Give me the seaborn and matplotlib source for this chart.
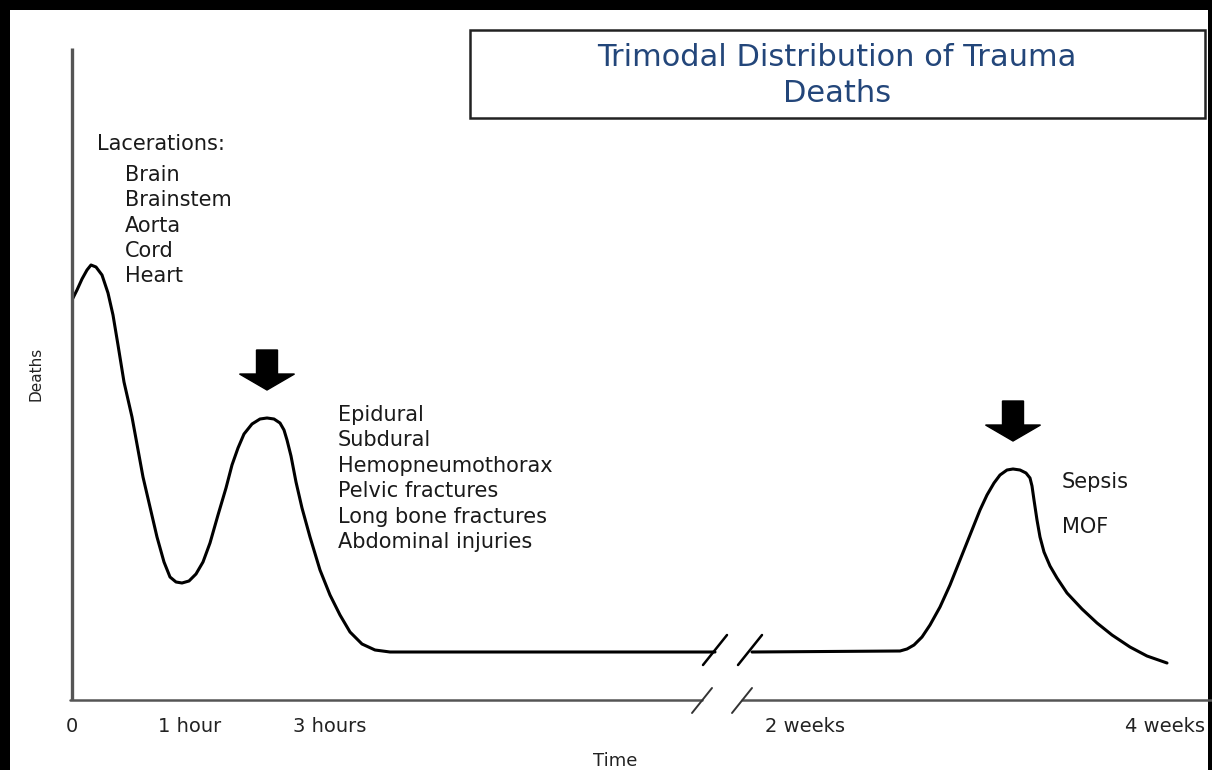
import numpy as np
import pandas as pd
import seaborn as sns
import matplotlib
import matplotlib.pyplot as plt
from matplotlib.patches import Rectangle

matplotlib.use("Agg")
sns.set_theme(style="white")
plt.rcParams["font.family"] = ["DejaVu Sans"]

# Curve (time position, relative deaths), split at the axis break
early_time = [0, 5, 10, 15, 19, 24, 30, 36, 41, 46, 52, 60, 71, 85, 92, 98, 104, 110,
              117, 124, 131, 138, 146, 154, 160, 166, 172, 180, 188, 195, 202, 208,
              212, 215, 219, 224, 230, 238, 248, 258, 268, 278, 290, 303, 318, 328, 643]
early_deaths = [400, 410, 421, 430, 435, 433, 425, 407, 385, 355, 318, 283, 223, 163,
                138, 123, 118, 117, 119, 126, 138, 157, 185, 212, 235, 252, 266, 276,
                281, 282, 281, 277, 270, 260, 244, 218, 192, 163, 130, 105, 85, 68,
                56, 50, 48, 48, 48]
late_time = [680, 828, 835, 842, 850, 858, 868, 878, 888, 898, 908, 915, 922, 928, 935,
             941, 948, 954, 958, 960, 962, 965, 968, 972, 978, 985, 995, 1010, 1025,
             1040, 1058, 1075, 1095]
late_deaths = [48, 49, 51, 55, 63, 75, 93, 115, 140, 165, 190, 205, 217, 225, 230,
               231, 230, 227, 222, 214, 200, 180, 163, 148, 134, 122, 107, 91, 77,
               65, 53, 44, 37]

tick_pos = [0, 118, 258, 733, 1093]
tick_labels = ["0", "1 hour", "3 hours", "2 weeks", "4 weeks"]

immediate_causes = ["Brain", "Brainstem", "Aorta", "Cord", "Heart"]
early_causes = ["Epidural", "Subdural", "Hemopneumothorax", "Pelvic fractures",
                "Long bone fractures", "Abdominal injuries"]
late_causes = ["Sepsis", "MOF"]

df = pd.concat([
    pd.DataFrame({"time": early_time, "deaths": early_deaths, "segment": "early"}),
    pd.DataFrame({"time": late_time, "deaths": late_deaths, "segment": "late"}),
])

fig = plt.figure(figsize=(12.12, 7.7), dpi=100, facecolor="black")
fig.patches.append(Rectangle((10 / 1212, 0), 1198 / 1212, 760 / 770,
                             transform=fig.transFigure, facecolor="white",
                             edgecolor="none", zorder=-1))
ax = fig.add_axes([72 / 1212, 70 / 770, 1140 / 1212, 652 / 770])
ax.set_facecolor("none")

sns.lineplot(data=df, x="time", y="deaths", units="segment", estimator=None,
             sort=False, color="black", linewidth=2.2, ax=ax)

ax.set_xlim(0, 1140)
ax.set_ylim(0, 652)
for s in ax.spines.values():
    s.set_visible(False)

# axes drawn by hand so the x axis can carry a break
ax.plot([0, 0], [0, 652], color="#555555", lw=2.4, clip_on=False, solid_capstyle="butt")
ax.plot([-2, 630], [0, 0], color="#555555", lw=1.8, clip_on=False)
ax.plot([670, 1140], [0, 0], color="#555555", lw=1.8, clip_on=False)
for bx in [630, 670]:
    ax.plot([bx - 10, bx + 10], [-13, 12], color="#333333", lw=1.4, clip_on=False)
for bx in [643, 678]:
    ax.plot([bx - 12, bx + 12], [35, 65], color="black", lw=1.8, clip_on=False)

ax.set_xticks(tick_pos)
ax.set_xticklabels(tick_labels, fontsize=14, color="#222222")
ax.set_yticks([])
ax.tick_params(axis="x", length=0, pad=12)
ax.set_xlabel("Time", fontsize=13, color="#222222")
ax.xaxis.set_label_coords(543 / 1140, -52 / 652)
ax.set_ylabel("Deaths", fontsize=11, color="#222222")
ax.yaxis.set_label_coords(-28 / 1140, 0.5)

# arrows above the second and third peaks
dfe = df[(df["time"] > 150) & (df["time"] < 300)]
dfl = df[df["time"] > 800]
for part in [dfe, dfl]:
    pk = part.loc[part["deaths"].idxmax()]
    ax.arrow(pk["time"], pk["deaths"] + 68, 0, -40, width=21, head_width=55,
             head_length=16, length_includes_head=True, color="black")

txt = dict(fontsize=15, color="#1a1a1a", va="center", ha="left")
ax.text(25, 556, "Lacerations:", **txt)
for i, name in enumerate(immediate_causes):
    ax.text(53, 525 - 25.3 * i, name, **txt)
for i, name in enumerate(early_causes):
    ax.text(266, 285 - 25.4 * i, name, **txt)
for i, name in enumerate(late_causes):
    ax.text(990, 218 - 45 * i, name, **txt)

fig.patches.append(Rectangle((470 / 1212, (770 - 118) / 770), 735 / 1212, 88 / 770,
                             transform=fig.transFigure, facecolor="white",
                             edgecolor="#222222", lw=1.8))
fig.text(837 / 1212, 1 - 57 / 770, "Trimodal Distribution of Trauma",
         fontsize=22, color="#23467a", ha="center", va="center")
fig.text(837 / 1212, 1 - 93 / 770, "Deaths",
         fontsize=22, color="#23467a", ha="center", va="center")

fig.savefig("out.png", dpi=100, facecolor=fig.get_facecolor())
